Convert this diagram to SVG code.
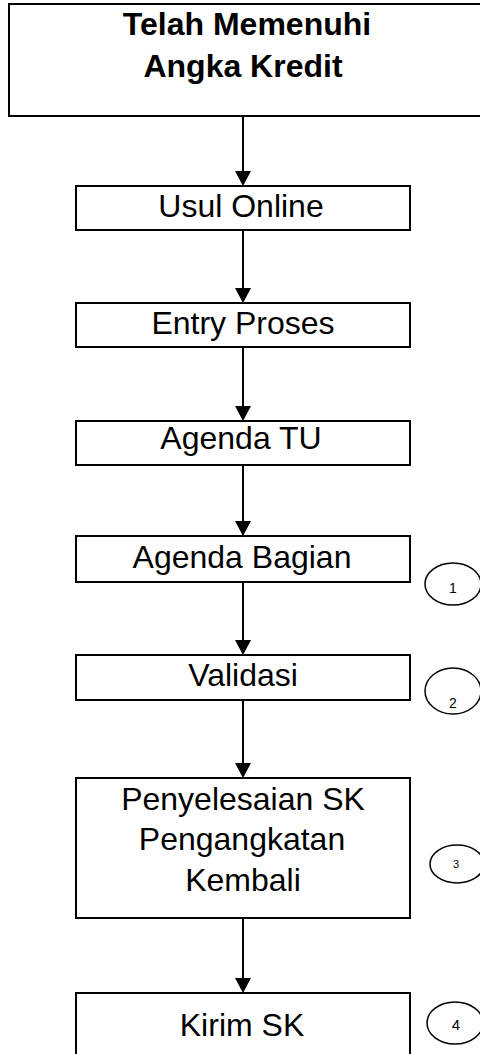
<svg xmlns="http://www.w3.org/2000/svg" width="480" height="1054" viewBox="0 0 480 1054">
<style>
.box{fill:#fff;stroke:#000;stroke-width:2}
.t{font-family:"Liberation Sans",Arial,sans-serif;font-size:32px;fill:#000;text-anchor:middle}
.tb{font-family:"Liberation Sans",Arial,sans-serif;font-size:32px;font-weight:bold;fill:#000;text-anchor:middle}
.ov{fill:#fff;stroke:#000;stroke-width:1.5}
.n{font-family:"Liberation Sans",Arial,sans-serif;font-size:14px;fill:#000;text-anchor:middle}
.c{stroke:#000;stroke-width:2;fill:none}
.h{fill:#000}
</style>
<rect width="480" height="1054" fill="#fff"/>
<g id="connectors">
<path class="c" d="M243,116 V172"/>
<polygon class="h" points="235,171 251,171 243,186"/>
<path class="c" d="M243,230 V289"/>
<polygon class="h" points="235,288 251,288 243,303"/>
<path class="c" d="M243,347 V407"/>
<polygon class="h" points="235,406 251,406 243,421"/>
<path class="c" d="M243,465 V522"/>
<polygon class="h" points="235,521 251,521 243,536"/>
<path class="c" d="M243,582 V641"/>
<polygon class="h" points="235,640 251,640 243,655"/>
<path class="c" d="M243,700 V764"/>
<polygon class="h" points="235,763 251,763 243,778"/>
<path class="c" d="M243,918 V979"/>
<polygon class="h" points="235,978 251,978 243,993"/>
</g>
<g id="start">
<rect class="box" x="9" y="4" width="480" height="112"/>
<text class="tb" x="247" y="35">Telah Memenuhi</text>
<text class="tb" x="243" y="77">Angka Kredit</text>
</g>
<g id="usul">
<rect class="box" x="76" y="186" width="334" height="44"/>
<text class="t" x="241" y="217">Usul Online</text>
</g>
<g id="entry">
<rect class="box" x="76" y="303" width="334" height="44"/>
<text class="t" x="243" y="334">Entry Proses</text>
</g>
<g id="agendatu">
<rect class="box" x="76" y="421" width="334" height="44"/>
<text class="t" x="241" y="449">Agenda TU</text>
</g>
<g id="agendabagian">
<rect class="box" x="76" y="536" width="334" height="46"/>
<text class="t" x="242" y="568">Agenda Bagian</text>
</g>
<g id="validasi">
<rect class="box" x="76" y="655" width="334" height="45"/>
<text class="t" x="243" y="686">Validasi</text>
</g>
<g id="penyelesaian">
<rect class="box" x="76" y="778" width="334" height="140"/>
<text class="t" x="243" y="810">Penyelesaian SK</text>
<text class="t" x="242" y="850">Pengangkatan</text>
<text class="t" x="243" y="891">Kembali</text>
</g>
<g id="kirim">
<rect class="box" x="76" y="993" width="334" height="70"/>
<text class="t" x="242" y="1036">Kirim SK</text>
</g>
<g id="m1">
<ellipse class="ov" cx="453" cy="584" rx="28" ry="21"/>
<text class="n" x="453" y="593">1</text>
</g>
<g id="m2">
<ellipse class="ov" cx="453" cy="691" rx="28" ry="23"/>
<text class="n" x="453" y="708">2</text>
</g>
<g id="m3">
<ellipse class="ov" cx="457" cy="864" rx="27" ry="19"/>
<text class="n" x="456" y="868" style="font-size:11px">3</text>
</g>
<g id="m4">
<ellipse class="ov" cx="455" cy="1023" rx="28" ry="21"/>
<text class="n" x="456" y="1030" style="font-size:15px">4</text>
</g>
</svg>
